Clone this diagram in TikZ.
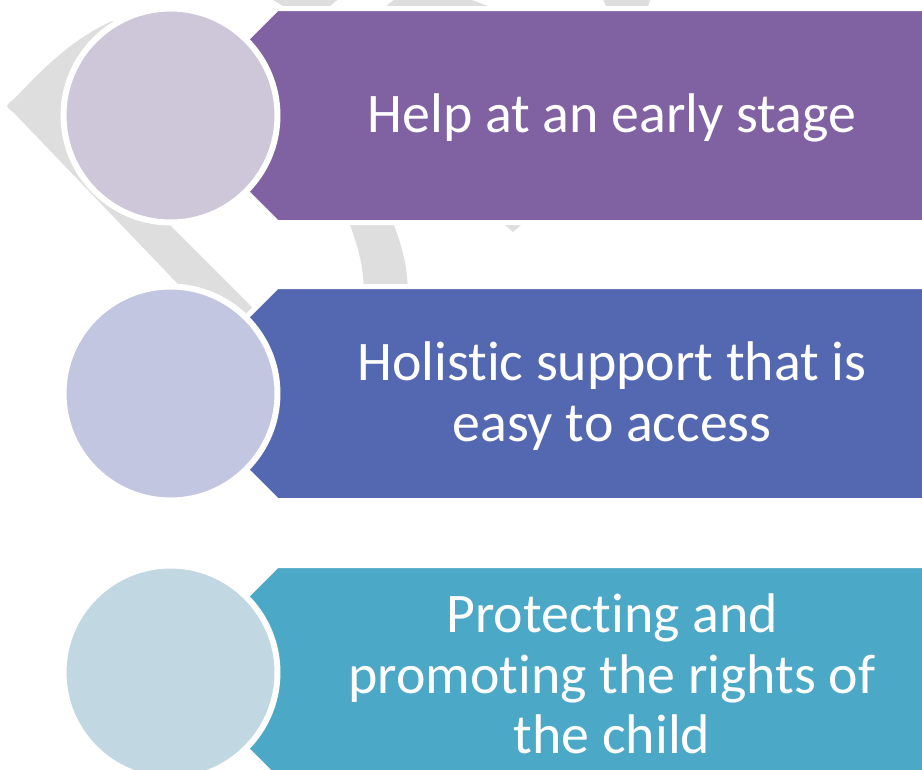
\documentclass[tikz,border=0pt]{standalone}
\usepackage{fontspec}
\setmainfont{Carlito}[Ligatures=NoCommon]
\usepackage{xcolor}
\usepackage{tikz}

\definecolor{greyarc}{RGB}{222,222,222}
\definecolor{bandA}{RGB}{128,98,162}
\definecolor{bandB}{RGB}{84,104,177}
\definecolor{bandC}{RGB}{75,168,198}
\definecolor{discA}{RGB}{205,199,217}
\definecolor{discB}{RGB}{195,198,224}
\definecolor{discC}{RGB}{193,216,226}

\tikzset{
	band/.style={draw=white,line width=2.85pt,line join=miter},
	disc/.style={circle,draw=white,line width=3.4pt,minimum size=4.28cm,inner sep=0pt},
	bandtext/.style={text=white,align=center,font=\fontsize{31.8}{34.5}\selectfont}
}

\begin{document}
\begin{tikzpicture}[x=0.02cm,y=-0.02cm]
		\useasboundingbox (0,0) rectangle (922,769);
		\clip (0,0) rectangle (922,769);
		%
		\fill[greyarc] (112,21) .. controls (70,40) and (40,72) .. (14,99)
			.. controls (5,106) .. (14,113) -- (200,307) -- (225,340)
			-- (246,315) -- (253,308) -- (165,220) -- (170,60) -- cycle;
		\fill[greyarc] (345,212) .. controls (360,250) and (364,268) .. (364,300)
			-- (408,300) .. controls (408,268) and (404,250) .. (389,212) -- cycle;
		\fill[greyarc] (490,212) -- (536,212) -- (513,232) -- cycle;
		\fill[greyarc] (265,-5) -- (343,-5) -- (314,20) -- (306,20) -- cycle;
		\fill[greyarc] (400,-5) -- (458,-5) -- (513,15) -- (375,15) -- cycle;
		\fill[greyarc] (601,-5) -- (652,-5) -- (645,15) -- (610,15) -- cycle;
		%
		\path[band,fill=bandA] (1000,8.5) -- (277,8.5) -- (170,115.5) -- (277,222.5) -- (1000,222.5) -- cycle;
		\path[band,fill=bandB] (1000,286.5) -- (277,286.5) -- (170,393.5) -- (277,500.5) -- (1000,500.5) -- cycle;
		\path[band,fill=bandC] (1000,565.5) -- (277,565.5) -- (170,672.5) -- (277,779.5) -- (1000,779.5) -- cycle;
		%
		\node[disc,fill=discA] (C1) at (170.5,115.5) {};
		\node[disc,fill=discB] (C2) at (170.5,393.5) {};
		\node[disc,fill=discC] (C3) at (170.5,672.5) {};
		%
		\node[bandtext] (T1) at (612,118) {Help at an early stage};
		\node[bandtext] (T2) at (612,396) {Holistic support that is\\easy to access};
		\node[bandtext] (T3) at (612,674) {Protecting and\\promoting the rights of\\the child};
	\end{tikzpicture}
\end{document}
